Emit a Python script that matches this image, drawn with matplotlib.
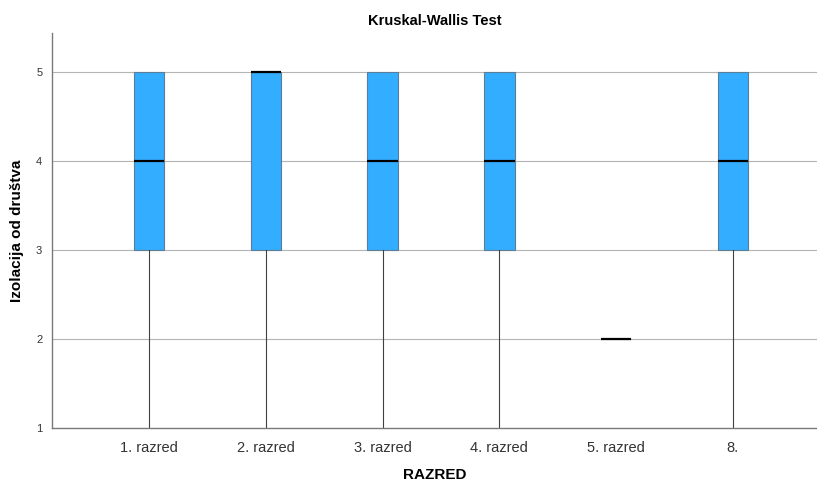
import matplotlib
matplotlib.use("Agg")
import matplotlib.pyplot as plt

plt.rcParams["font.family"] = ["Liberation Sans", "DejaVu Sans"]

categories = ["1. razred", "2. razred", "3. razred", "4. razred", "5. razred", "8."]
whislo = [1, 1, 1, 1, 2, 1]
q1 = [3, 3, 3, 3, 2, 3]
med = [4, 5, 4, 4, 2, 4]
q3 = [5, 5, 5, 5, 2, 5]
whishi = [5, 5, 5, 5, 2, 5]
yticks = [1, 2, 3, 4, 5]

fig = plt.figure(figsize=(8.17, 4.83), dpi=100)
ax = fig.add_axes([52/817, 55/483, 1 - 52/817, (428-33)/483])

stats = []
for i, c in enumerate(categories):
    stats.append(dict(label=c, whislo=whislo[i], q1=q1[i], med=med[i], q3=q3[i], whishi=whishi[i], fliers=[]))

for y in yticks[1:]:
    ax.axhline(y, color="#b4b4b4", lw=0.8, zorder=0)

ax.bxp(stats, positions=range(len(categories)), widths=0.26, patch_artist=True, showcaps=False,
       boxprops=dict(facecolor="#33adff", edgecolor="#5a7d99", lw=0.8),
       medianprops=dict(color="black", lw=1.6),
       whiskerprops=dict(color="#404040", lw=0.8), manage_ticks=False)

ax.set_xlim(-0.83, 5.72)
ax.set_ylim(1, 5.44)
ax.set_xticks(range(len(categories)))
ax.set_xticklabels(categories, fontsize=10.5, color="#333333")
ax.set_yticks(yticks)
ax.set_yticklabels([str(v) for v in yticks], fontsize=8, color="#333333")
ax.tick_params(axis="both", length=0)
ax.tick_params(axis="x", pad=9)
ax.tick_params(axis="y", pad=7)
for s in ["top", "right"]:
    ax.spines[s].set_visible(False)
for s in ["left", "bottom"]:
    ax.spines[s].set_color("#7a7a7a")
    ax.spines[s].set_linewidth(1.0)

ax.set_title("Kruskal-Wallis Test", fontsize=10.5, fontweight="bold", pad=6)
ax.set_xlabel("RAZRED", fontsize=11, fontweight="bold", labelpad=10)
ax.set_ylabel("Izolacija od društva", fontsize=11, fontweight="bold", labelpad=9)

fig.savefig("out.png", dpi=100)
